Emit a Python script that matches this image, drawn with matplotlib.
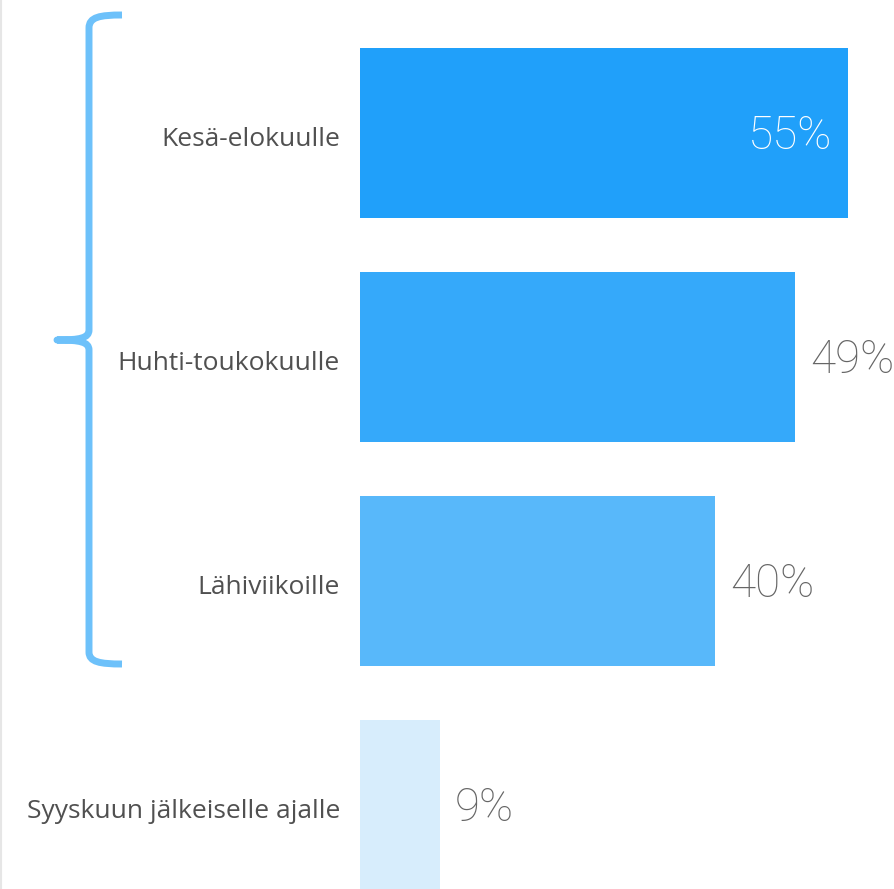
import matplotlib
matplotlib.use('Agg')
import matplotlib.pyplot as plt
from matplotlib.path import Path
from matplotlib.patches import PathPatch
from matplotlib.lines import Line2D
from matplotlib.transforms import Affine2D

categories = ['Kesä-elokuulle', 'Huhti-toukokuulle', 'Lähiviikoille', 'Syyskuun jälkeiselle ajalle']
values = [55, 49, 40, 9]
bar_colors = ['#20A0FA', '#35A9FA', '#58B8FA', '#D7EDFC']

W, H = 895, 889
fig = plt.figure(figsize=(W / 100, H / 100), dpi=100)
fig.patch.set_facecolor('white')

# akselin paikka pikseleinä: palkit alkavat x=360, 55 % -> x=848
px_per_unit = (848 - 360) / 55
ax = fig.add_axes([360 / W, 0, (W - 360) / W, 1])
ax.set_xlim(0, (W - 360) / px_per_unit)
ax.set_ylim((H - 133) / 224, -133 / 224)
ax.axis('off')

ypos = list(range(len(categories)))
ax.barh(ypos, values, height=170 / 224, color=bar_colors, left=0)

for i, (cat, v) in enumerate(zip(categories, values)):
    ax.annotate(cat, xy=(0, i), xytext=(-20, -6), textcoords='offset pixels',
                ha='right', va='center', fontsize=19, color='#505050',
                family='Open Sans')
    if i == 0:
        ax.annotate(f'{v}%', xy=(v, i), xytext=(-16, -3), textcoords='offset pixels',
                    ha='right', va='center', fontsize=33, color='white',
                    family='Roboto', fontweight='light')
    else:
        ax.annotate(f'{v}%', xy=(v, i), xytext=(15, -3), textcoords='offset pixels',
                    ha='left', va='center', fontsize=33, color='#666666',
                    family='Roboto', fontweight='light')

# aaltosulje vasemmalle (pikselikoordinaatit, y ylhäältä)
pts = [
    (122, 15), (100, 15), (89, 17), (89, 28),
    (89, 330),
    (89, 338), (80, 340), (57, 340),
    (80, 340), (89, 342), (89, 350),
    (89, 652),
    (89, 662), (100, 664), (122, 664),
]
codes = [Path.MOVETO, Path.CURVE4, Path.CURVE4, Path.CURVE4,
         Path.LINETO,
         Path.CURVE4, Path.CURVE4, Path.CURVE4,
         Path.CURVE4, Path.CURVE4, Path.CURVE4,
         Path.LINETO,
         Path.CURVE4, Path.CURVE4, Path.CURVE4]
pts = [(x, H - y) for x, y in pts]
tr = Affine2D().scale(1 / W, 1 / H) + fig.transFigure
fig.patches.append(PathPatch(Path(pts, codes), transform=tr, fill=False,
                             edgecolor='#6DC1FA', lw=5, capstyle='butt',
                             joinstyle='round'))

# ohut harmaa reunaviiva vasemmalla
fig.add_artist(Line2D([1 / W, 1 / W], [0, 1], transform=fig.transFigure,
                      color='#E6E6E6', lw=1.5))

fig.savefig('out.png', dpi=100)
